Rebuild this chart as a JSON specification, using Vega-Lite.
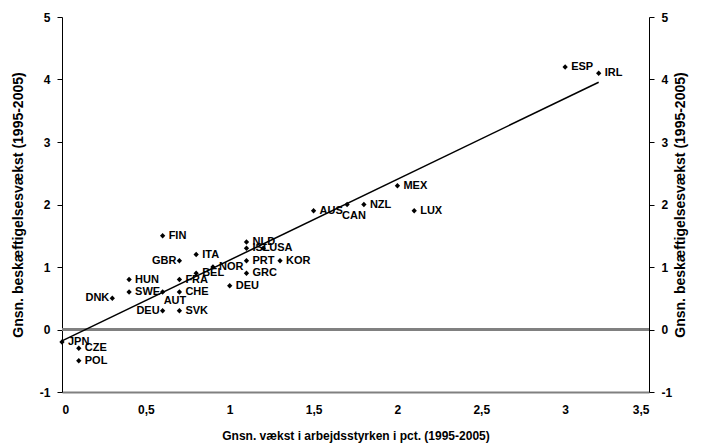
{
  "$schema": "https://vega.github.io/schema/vega-lite/v6.json",
  "autosize": "none",
  "width": 587,
  "height": 375,
  "padding": {"left": 62, "top": 17, "right": 56, "bottom": 56},
  "background": "white",
  "config": {
    "view": {"stroke": null},
    "font": "Liberation Sans",
    "axis": {"grid": false, "labelFont": "Liberation Sans", "titleFont": "Liberation Sans", "labelFontWeight": "bold", "titleFontWeight": "bold", "labelFontSize": 12, "titleFontSize": 12, "labelColor": "black", "titleColor": "black"}
  },
  "datasets": {
    "pts": [
      {"c": "JPN", "x": 0.0, "y": -0.2},
      {"c": "CZE", "x": 0.1, "y": -0.3},
      {"c": "POL", "x": 0.1, "y": -0.5},
      {"c": "DNK", "x": 0.3, "y": 0.5},
      {"c": "HUN", "x": 0.4, "y": 0.8},
      {"c": "SWE", "x": 0.4, "y": 0.6},
      {"c": "AUT", "x": 0.6, "y": 0.6},
      {"c": "DEU", "x": 0.6, "y": 0.3},
      {"c": "SVK", "x": 0.7, "y": 0.3},
      {"c": "CHE", "x": 0.7, "y": 0.6},
      {"c": "FRA", "x": 0.7, "y": 0.8},
      {"c": "FIN", "x": 0.6, "y": 1.5},
      {"c": "GBR", "x": 0.7, "y": 1.1},
      {"c": "ITA", "x": 0.8, "y": 1.2},
      {"c": "BEL", "x": 0.8, "y": 0.9},
      {"c": "NOR", "x": 0.9, "y": 1.0},
      {"c": "NLD", "x": 1.1, "y": 1.4},
      {"c": "ISL", "x": 1.1, "y": 1.3},
      {"c": "USA", "x": 1.2, "y": 1.3},
      {"c": "PRT", "x": 1.1, "y": 1.1},
      {"c": "KOR", "x": 1.3, "y": 1.1},
      {"c": "GRC", "x": 1.1, "y": 0.9},
      {"c": "DEU", "x": 1.0, "y": 0.7},
      {"c": "AUS", "x": 1.5, "y": 1.9},
      {"c": "CAN", "x": 1.7, "y": 2.0},
      {"c": "NZL", "x": 1.8, "y": 2.0},
      {"c": "MEX", "x": 2.0, "y": 2.3},
      {"c": "LUX", "x": 2.1, "y": 1.9},
      {"c": "ESP", "x": 3.0, "y": 4.2},
      {"c": "IRL", "x": 3.2, "y": 4.1}
    ]
  },
  "data": {"name": "pts"},
  "resolve": {"scale": {"y": "independent"}, "axis": {"y": "independent"}},
  "layer": [
    {
      "layer": [
        {
          "mark": {"type": "rule", "color": "#808080", "strokeWidth": 2},
          "encoding": {"y": {"datum": 0}}
        },
        {
          "mark": {"type": "point", "shape": "diamond", "filled": true, "color": "black", "size": 28, "opacity": 1},
          "encoding": {
            "x": {"field": "x", "type": "quantitative", "scale": {"domain": [0, 3.5], "nice": false},
              "axis": {"orient": "bottom", "values": [0, 0.5, 1, 1.5, 2, 2.5, 3, 3.5], "format": ".1~f", "labelExpr": "replace(datum.label, '.', ',')", "domainColor": "#808080", "domainWidth": 2, "ticks": false, "labelPadding": 12, "titlePadding": 15,
                "title": "Gnsn. vækst i arbejdsstyrken i pct.  (1995-2005)"}},
            "y": {"field": "y", "type": "quantitative", "scale": {"domain": [-1, 5], "nice": false},
              "axis": {"orient": "left", "values": [-1, 0, 1, 2, 3, 4, 5], "labelExpr": "'' + datum.value", "domainColor": "black", "tickColor": "black", "tickSize": 5, "labelPadding": 7, "titlePadding": 14, "titleFontSize": 14,
                "title": "Gnsn. beskæftigelsesvækst (1995-2005)"}}
          }
        },
        {
          "transform": [{"filter": "indexof(['DNK','GBR'], datum.c) >= 0 || (datum.c == 'DEU' && datum.x < 0.8)"}],
          "mark": {"type": "text", "align": "right", "baseline": "middle", "dx": -3, "fontWeight": "bold", "fontSize": 11, "color": "black"},
          "encoding": {"x": {"field": "x", "type": "quantitative"}, "y": {"field": "y", "type": "quantitative"}, "text": {"field": "c"}}
        },
        {
          "transform": [{"filter": "datum.c == 'AUT'"}],
          "mark": {"type": "text", "align": "left", "baseline": "middle", "dx": 1, "dy": 9, "fontWeight": "bold", "fontSize": 11, "color": "black"},
          "encoding": {"x": {"field": "x", "type": "quantitative"}, "y": {"field": "y", "type": "quantitative"}, "text": {"field": "c"}}
        },
        {
          "transform": [{"filter": "datum.c == 'CAN'"}],
          "mark": {"type": "text", "align": "left", "baseline": "middle", "dx": -5, "dy": 11, "fontWeight": "bold", "fontSize": 11, "color": "black"},
          "encoding": {"x": {"field": "x", "type": "quantitative"}, "y": {"field": "y", "type": "quantitative"}, "text": {"field": "c"}}
        },
        {
          "transform": [{"filter": "indexof(['DNK','GBR','AUT','CAN'], datum.c) < 0 && !(datum.c == 'DEU' && datum.x < 0.8)"}],
          "mark": {"type": "text", "align": "left", "baseline": "middle", "dx": 6, "fontWeight": "bold", "fontSize": 11, "color": "black"},
          "encoding": {"x": {"field": "x", "type": "quantitative"}, "y": {"field": "y", "type": "quantitative"}, "text": {"field": "c"}}
        }
      ]
    },
    {
      "transform": [{"regression": "y", "on": "x", "extent": [0, 3.2]}],
      "mark": {"type": "line", "color": "black", "strokeWidth": 1.5},
      "encoding": {
        "x": {"field": "x", "type": "quantitative"},
        "y": {"field": "y", "type": "quantitative", "scale": {"domain": [-1, 5], "nice": false},
          "axis": {"orient": "right", "values": [-1, 0, 1, 2, 3, 4, 5], "labelExpr": "'' + datum.value", "domainColor": "black", "tickColor": "black", "tickSize": 5, "labelPadding": 7, "titlePadding": 16, "titleAngle": -90, "titleFontSize": 14,
            "title": "Gnsn. beskæftigelsesvækst (1995-2005)"}}
      }
    }
  ]
}
